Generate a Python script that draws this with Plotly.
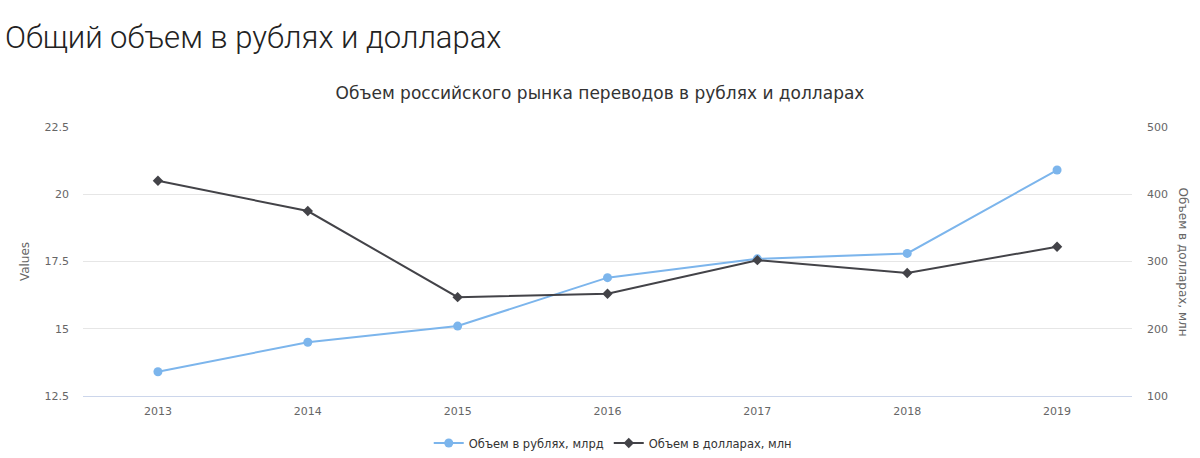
import plotly.graph_objects as go

years = ["2013", "2014", "2015", "2016", "2017", "2018", "2019"]
rub_bn = [13.4, 14.5, 15.1, 16.9, 17.6, 17.8, 20.9]
usd_mn = [420, 375, 247, 252, 302, 283, 322]

name_rub = "Объем в рублях, млрд"
name_usd = "Объем в долларах, млн"
page_title = "Общий объем в рублях и долларах"
chart_title = "Объем российского рынка переводов в рублях и долларах"

font_main = "DejaVu Sans, sans-serif"

L, R, T, B = 83, 68, 127, 62
W, H = 1200, 458
pw = W - L - R
ph = H - T - B

fig = go.Figure()
fig.add_trace(go.Scatter(
    x=years, y=rub_bn, name=name_rub, mode="lines+markers",
    line=dict(color="#7cb5ec", width=2),
    marker=dict(symbol="circle", size=9, color="#7cb5ec"),
    yaxis="y",
))
fig.add_trace(go.Scatter(
    x=years, y=usd_mn, name=name_usd, mode="lines+markers",
    line=dict(color="#434348", width=2),
    marker=dict(symbol="diamond", size=8, color="#434348"),
    yaxis="y2",
))

fig.update_layout(
    width=W, height=H,
    margin=dict(l=L, r=R, t=T, b=B, autoexpand=False),
    paper_bgcolor="white", plot_bgcolor="white",
    font=dict(family=font_main, color="#666666", size=11),
    showlegend=True,
    legend=dict(orientation="h", x=0.505, xanchor="center", y=-(443 - (H - B)) / ph, yanchor="middle",
                font=dict(size=11.5, color="#333333"), tracegroupgap=0),
    xaxis=dict(type="category", range=[-0.5, 6.5], showgrid=False, automargin=False,
               showline=True, linecolor="#ccd6eb", linewidth=1, ticklabelstandoff=5,
               ticks="", tickfont=dict(size=11, color="#666666"), zeroline=False),
    yaxis=dict(range=[12.5, 22.5], dtick=2.5, tick0=12.5, showgrid=True, automargin=False,
               gridcolor="#e6e6e6", zeroline=False, showline=False, ticklabelstandoff=13,
               title=dict(text="Values", font=dict(size=12, color="#666666"), standoff=12),
               tickfont=dict(size=11, color="#666666")),
    yaxis2=dict(range=[100, 500], dtick=100, overlaying="y", side="right", automargin=False,
                showgrid=False, zeroline=False, showline=False, ticklabelstandoff=14,
                tickfont=dict(size=11, color="#666666")),
    annotations=[
        dict(text=page_title, x=-(L - 3) / pw, xref="paper", xanchor="left",
             y=1 + (T - 38) / ph, yref="paper", yanchor="middle", showarrow=False,
             font=dict(family="Roboto", size=31, color="#222222", weight=300)),
        dict(text=name_usd, x=1 + (1183 - (W - R)) / pw, xref="paper", xanchor="center",
             y=0.5, yref="paper", yanchor="middle", showarrow=False, textangle=90,
             font=dict(size=12, color="#666666", family=font_main)),
    ],
    title=dict(text=chart_title, x=0.5, xanchor="center", y=1 - 93 / H, yanchor="middle",
               font=dict(size=17, color="#333333", family=font_main)),
)

fig.write_html("out.html", config={"displayModeBar": False},
               post_script="document.body.style.margin='0';")
